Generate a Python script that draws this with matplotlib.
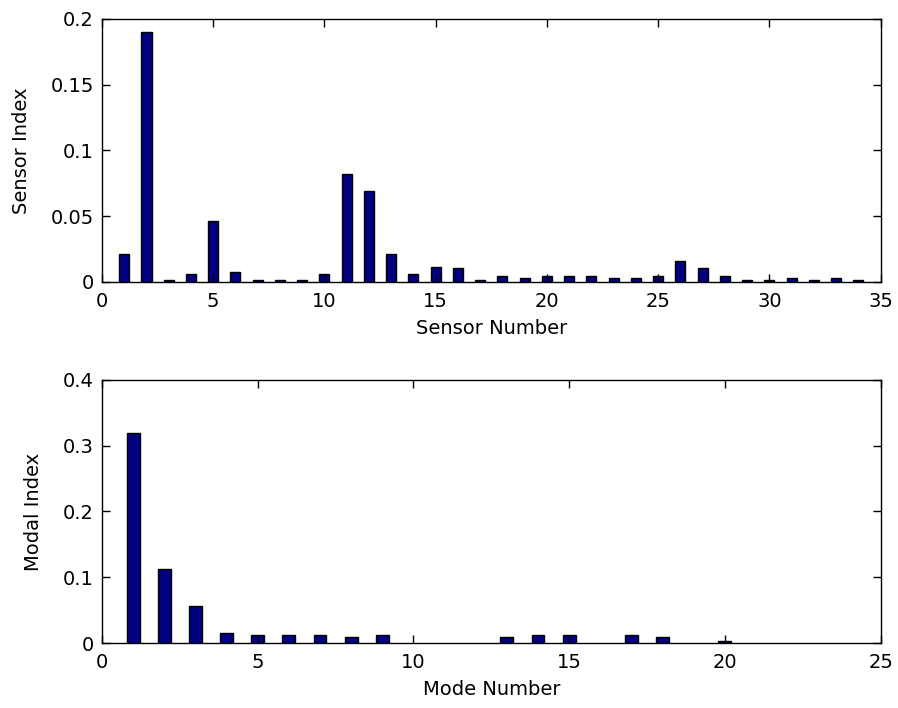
import numpy as np
import matplotlib
matplotlib.use("Agg")
import matplotlib.pyplot as plt

# sensor index values
sensor_numbers = list(range(1, 35))
sensor_index = [
    0.0216, 0.190, 0.0018, 0.0058, 0.0464, 0.0074, 0.0018, 0.0018, 0.0018, 0.0058,
    0.0822, 0.0693, 0.0216, 0.0058, 0.0114, 0.0104, 0.0018, 0.0043, 0.0030, 0.0043,
    0.0043, 0.0043, 0.0030, 0.0030, 0.0043, 0.0160, 0.0104, 0.0043, 0.0018, 0.0018,
    0.0030, 0.0018, 0.0030, 0.0018,
]

# modal index values (bottom panel)
mode_numbers = list(range(1, 25))
modal_index = [
    0.320, 0.1127, 0.0558, 0.0152, 0.0127, 0.0127, 0.0127, 0.0091, 0.0127, 0.0,
    0.0, 0.0, 0.0091, 0.0127, 0.0127, 0.0, 0.0127, 0.0091, 0.0, 0.0025,
    0.0, 0.0, 0.0, 0.0,
]

sensor_yticks = [0, 0.05, 0.1, 0.15, 0.2]
sensor_yticklabels = ["0", "0.05", "0.1", "0.15", "0.2"]
modal_yticks = [0, 0.1, 0.2, 0.3, 0.4]
modal_yticklabels = ["0", "0.1", "0.2", "0.3", "0.4"]

BAR_COLOR = "#000080"
FONT = 14

plt.rcParams['font.family'] = ['DejaVu Sans']

fig = plt.figure(figsize=(8.98, 7.08), dpi=100)
ax1 = fig.add_axes([0.1136, 0.6017, 0.867, 0.3715])
ax2 = fig.add_axes([0.1136, 0.0918, 0.867, 0.3715])


def style_axis(ax, xmax, yticks, yticklabels, xlabel, ylabel):
    ax.set_xlim(0, xmax)
    ax.set_ylim(yticks[0], yticks[-1])
    ax.set_xticks(range(0, xmax + 1, 5))
    ax.set_xticklabels([str(v) for v in range(0, xmax + 1, 5)])
    ax.set_yticks(yticks)
    ax.set_yticklabels(yticklabels)
    ax.tick_params(direction='in', length=6, width=1.0, top=True, right=True,
                   labelsize=FONT, colors='black')
    ax.tick_params(axis='x', pad=7)
    ax.tick_params(axis='y', pad=6)
    for s in ax.spines.values():
        s.set_linewidth(1.0)
    ax.set_xlabel(xlabel, fontsize=FONT, labelpad=6)
    ax.set_ylabel(ylabel, fontsize=FONT, labelpad=14)


def draw_bars(ax, x, y, width):
    # skip the zero bars, they are not drawn in the original
    xs = [a for a, b in zip(x, y) if b > 0]
    ys = [b for b in y if b > 0]
    ax.bar(xs, ys, width=width, color=BAR_COLOR, edgecolor='black',
           linewidth=1.0, zorder=1)


draw_bars(ax1, sensor_numbers, sensor_index, 0.45)
style_axis(ax1, 35, sensor_yticks, sensor_yticklabels, 'Sensor Number', 'Sensor Index')

draw_bars(ax2, mode_numbers, modal_index, 0.41)
style_axis(ax2, 25, modal_yticks, modal_yticklabels, 'Mode Number', 'Modal Index')

plt.savefig('out.png', dpi=100)
